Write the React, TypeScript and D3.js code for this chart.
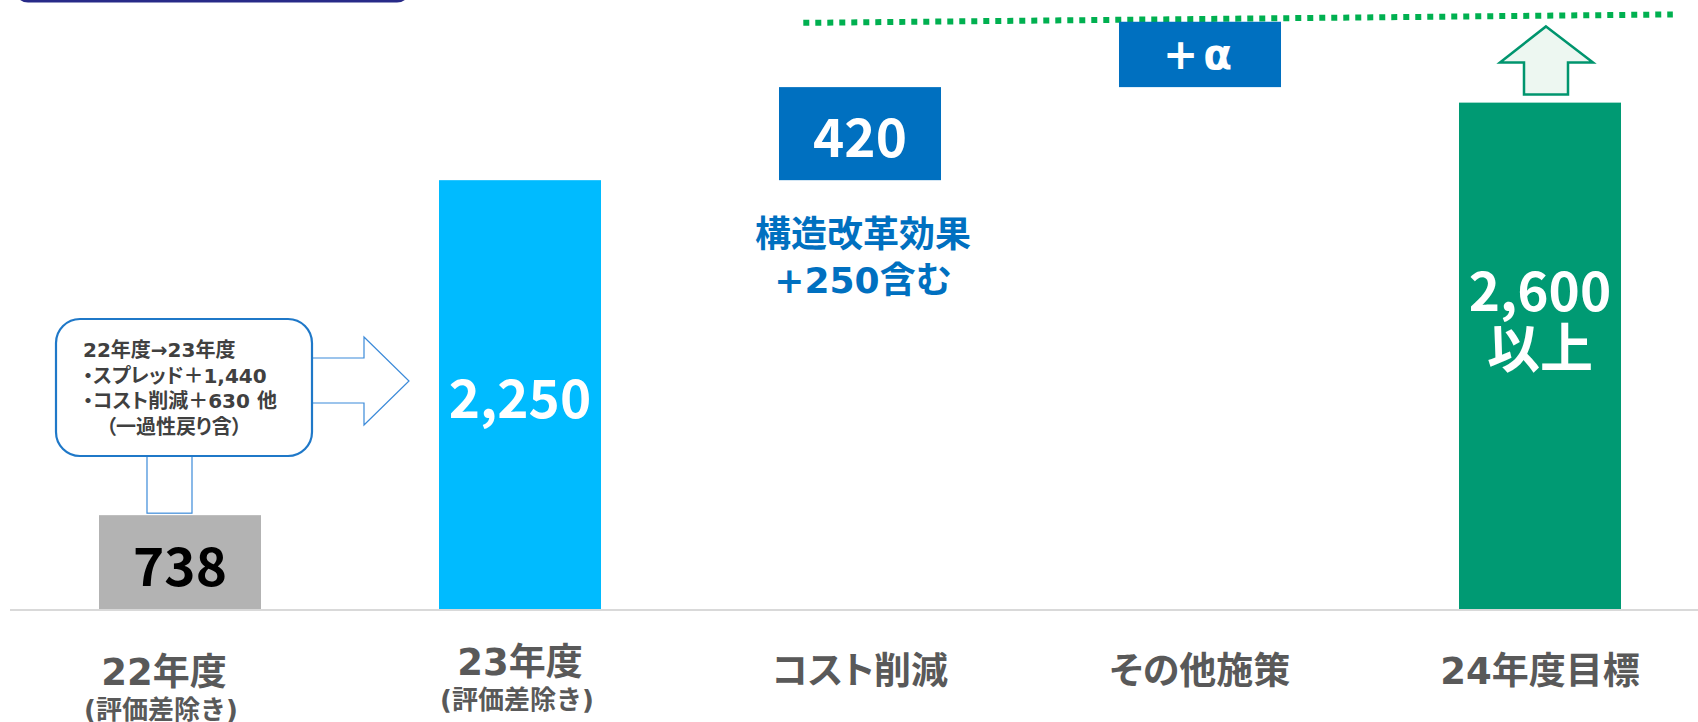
import { useEffect, useRef } from 'react';
import * as d3 from 'd3';

// Categories along the bottom
const categories = ['22年度', '23年度', 'コスト削減', 'その他施策', '24年度目標'];
const subLabels = ['(評価差除き)', '(評価差除き)', '', '', ''];

// Waterfall steps: totals stand on the axis, deltas float on the running total
const stepKinds = ['total', 'total', 'delta', 'delta', 'total'];
const stepValues = [738, 2250, 420, 295, 2600]; // 295 = estimated size of the "+α" block
const valueLabels = [['738'], ['2,250'], ['420'], ['+α'], ['2,600', '以上']];
const barColors = ['#b3b3b3', '#00bbff', '#0070c0', '#0070c0', '#009a73'];
const labelColors = ['#000000', '#ffffff', '#ffffff', '#ffffff', '#ffffff'];

// Dotted target line (value at left end, right end)
const targetLine = [2960, 2998];

// Annotations
const noteLines = ['構造改革効果', '+250含む'];
const calloutLines = ['22年度→23年度', '・スプレッド＋1,440', '・コスト削減＋630 他', '（一過性戻り含）'];

// Value axis is truncated (not drawn), bars start from this value
const axisFloor = 310;
const axisTop = 3000;

const FONT = '"Noto Sans CJK JP", "Noto Sans", sans-serif';
// Verdana-like latin glyphs, CJK from Noto
const MIXED = '"DejaVu Sans", "Noto Sans CJK JP", sans-serif';

const App = () => {
  const svgRef = useRef<SVGSVGElement>(null);

  useEffect(() => {
    document.body.style.margin = '0';
    const width = 1698;
    const height = 722;
    const baseY = 610;

    const svg = d3.select(svgRef.current).attr('width', width).attr('height', height);
    svg.selectAll('*').remove();

    // Scales
    const x = d3
      .scaleBand()
      .domain(categories)
      .range([10, 1710])
      .paddingInner(0.5235)
      .paddingOuter(0.26175);
    const y = d3.scaleLinear().domain([axisFloor, axisTop]).range([baseY, 14]).clamp(true);
    const bw = x.bandwidth();

    // Running totals
    let running = 0;
    const bars = stepValues.map((v, i) => {
      let start = 0;
      let end = v;
      if (stepKinds[i] === 'delta') {
        start = running;
        end = running + v;
      }
      running = end;
      return { cat: categories[i], start, end, i };
    });

    // Top-left frame (cut off by the top edge)
    svg
      .append('rect')
      .attr('x', 16)
      .attr('y', -60)
      .attr('width', 393)
      .attr('height', 61)
      .attr('rx', 12)
      .attr('fill', 'none')
      .attr('stroke', '#272a88')
      .attr('stroke-width', 3);

    // Dotted target line
    const x0 = (x(categories[2]) as number) + bw * 0.15;
    const x1 = (x(categories[4]) as number) + bw * 1.32;
    svg
      .append('line')
      .attr('x1', x0)
      .attr('x2', x1)
      .attr('y1', y(targetLine[0]))
      .attr('y2', y(targetLine[1]))
      .attr('stroke', '#00b050')
      .attr('stroke-width', 6)
      .attr('stroke-dasharray', '6 6');

    // Bars
    svg
      .selectAll('rect.bar')
      .data(bars)
      .enter()
      .append('rect')
      .attr('class', 'bar')
      .attr('x', (d) => x(d.cat) as number)
      .attr('width', bw)
      .attr('y', (d) => y(d.end))
      .attr('height', (d) => y(d.start) - y(d.end))
      .attr('fill', (d) => barColors[d.i]);

    // Baseline
    svg
      .append('line')
      .attr('x1', 10)
      .attr('x2', width)
      .attr('y1', baseY)
      .attr('y2', baseY)
      .attr('stroke', '#d9d9d9')
      .attr('stroke-width', 2);

    // Value labels
    bars.forEach((d) => {
      const cx = (x(d.cat) as number) + bw / 2;
      const lines = valueLabels[d.i];
      const lh = 57;
      let cy = (y(d.start) + y(d.end)) / 2;
      if (lines.length > 1) cy -= 40;
      const isAlpha = d.i === 3;
      const t = svg
        .append('text')
        .attr('text-anchor', 'middle')
        .attr('font-family', isAlpha ? MIXED : FONT)
        .attr('font-weight', 'bold')
        .attr('font-size', isAlpha ? 42 : 53)
        .attr('letter-spacing', isAlpha ? 5 : 0)
        .attr('fill', labelColors[d.i]);
      lines.forEach((l, k) => {
        t.append('tspan')
          .attr('x', cx)
          .attr('y', cy + (k - (lines.length - 1) / 2) * lh)
          .attr('dominant-baseline', 'central')
          .text(l);
      });
    });

    // Note under the cost-reduction block
    const noteX = (x(categories[2]) as number) + bw / 2 + 3;
    const noteTop = y(bars[2].start);
    noteLines.forEach((l, k) => {
      svg
        .append('text')
        .attr('x', noteX)
        .attr('y', noteTop + 54 + k * 46)
        .attr('dominant-baseline', 'central')
        .attr('text-anchor', 'middle')
        .attr('font-family', MIXED)
        .attr('font-weight', 'bold')
        .attr('font-size', 36)
        .attr('fill', '#0070c0')
        .text(l);
    });

    // Category labels
    const catShiftY = [1, -9, 0, 0, 0];
    const catShiftX = [-16, 0, 0, 0, 0];
    categories.forEach((c, i) => {
      const cx = (x(c) as number) + bw / 2 + catShiftX[i];
      svg
        .append('text')
        .attr('x', cx)
        .attr('y', 671 + catShiftY[i])
        .attr('dominant-baseline', 'central')
        .attr('text-anchor', 'middle')
        .attr('font-family', MIXED)
        .attr('font-weight', 'bold')
        .attr('font-size', 37)
        .attr('fill', '#595959')
        .style('font-feature-settings', '"palt"')
        .text(c);
      if (subLabels[i]) {
        svg
          .append('text')
          .attr('x', cx - 3)
          .attr('y', 709 + catShiftY[i])
          .attr('dominant-baseline', 'central')
          .attr('text-anchor', 'middle')
          .attr('font-family', MIXED)
          .attr('font-weight', 'bold')
          .attr('font-size', 26)
          .attr('fill', '#595959')
          .text(subLabels[i]);
      }
    });

    // Callout: connector to the first bar
    const b0 = x(categories[0]) as number;
    svg
      .append('rect')
      .attr('x', b0 + 48)
      .attr('y', 456)
      .attr('width', 45)
      .attr('height', y(bars[0].end) - 458)
      .attr('fill', '#ffffff')
      .attr('stroke', '#3b8ad9')
      .attr('stroke-width', 1.2);

    // Callout: arrow towards the second bar
    const tipX = (x(categories[1]) as number) - 30;
    const arrow = d3.path();
    arrow.moveTo(300, 358);
    arrow.lineTo(tipX - 45, 358);
    arrow.lineTo(tipX - 45, 337);
    arrow.lineTo(tipX, 381);
    arrow.lineTo(tipX - 45, 425);
    arrow.lineTo(tipX - 45, 403);
    arrow.lineTo(300, 403);
    arrow.closePath();
    svg
      .append('path')
      .attr('d', arrow.toString())
      .attr('fill', '#ffffff')
      .attr('stroke', '#3b8ad9')
      .attr('stroke-width', 1.2);

    // Callout box
    svg
      .append('rect')
      .attr('x', 56)
      .attr('y', 319)
      .attr('width', 256)
      .attr('height', 137)
      .attr('rx', 24)
      .attr('fill', '#ffffff')
      .attr('stroke', '#1f78c8')
      .attr('stroke-width', 2.2);

    calloutLines.forEach((l, k) => {
      svg
        .append('text')
        .attr('x', k === 3 ? 106 : 83)
        .attr('y', 350 + k * 25.5)
        .attr('dominant-baseline', 'central')
        .attr('font-family', MIXED)
        .attr('font-weight', 'bold')
        .attr('font-size', 20)
        .attr('fill', '#404040')
        .style('font-feature-settings', '"palt"')
        .text(l);
    });

    // Up arrow above the target bar
    const ax = (x(categories[4]) as number) + bw / 2 + 6;
    const aTop = y(targetLine[1]) + 12;
    const aBot = y(bars[4].end) - 8;
    const up = d3.path();
    up.moveTo(ax, aTop);
    up.lineTo(ax + 47, aTop + 36);
    up.lineTo(ax + 22, aTop + 36);
    up.lineTo(ax + 22, aBot);
    up.lineTo(ax - 22, aBot);
    up.lineTo(ax - 22, aTop + 36);
    up.lineTo(ax - 46, aTop + 36);
    up.closePath();
    svg
      .append('path')
      .attr('d', up.toString())
      .attr('fill', '#edf7f1')
      .attr('stroke', '#00956e')
      .attr('stroke-width', 2.5)
      .attr('stroke-linejoin', 'miter');
  }, []);

  return <svg ref={svgRef} style={{ display: 'block' }}></svg>;
};

export default App;
